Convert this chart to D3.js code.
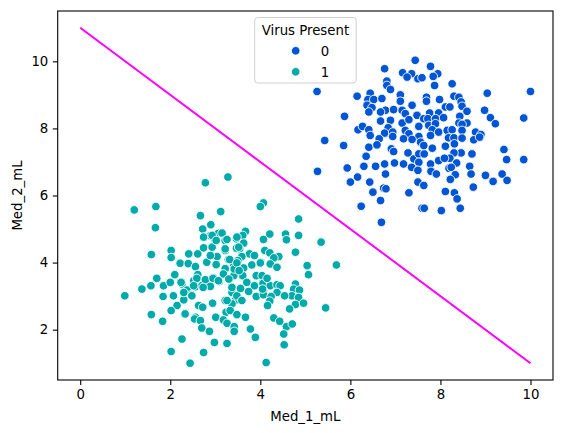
<!DOCTYPE html>
<html>
<head>
<meta charset="utf-8">
<script src="https://cdn.jsdelivr.net/npm/d3@7"></script>
<style>
  body { margin: 0; background: #fff; }
  text { font-family: "DejaVu Sans", sans-serif; }
</style>
</head>
<body>
<script>
// points, [Med_1_mL, Med_2_mL]
var virus0Points = [
  [7.44,10.03],[6.76,9.78],[7.16,9.66],[7.36,9.63],[7.26,9.53],[7.5,9.48],[6.81,9.41],[6.81,9.28],[6.89,9.16],[5.26,9.1],
  [6.15,8.96],[6.44,9.05],[6.39,8.86],[6.52,8.86],[6.7,8.89],[7.11,9.0],[7.11,8.81],[7.37,8.69],[6.37,8.69],[6.48,8.62],
  [6.41,8.49],[6.78,8.54],[6.96,8.56],[6.67,8.49],[7.15,8.54],[7.22,8.44],[7.48,8.39],[5.87,8.36],[6.67,8.22],[6.89,8.24],
  [7.15,8.16],[7.3,8.26],[6.84,8.02],[6.17,7.96],[6.27,8.06],[6.41,7.96],[6.44,7.79],[6.76,7.86],[6.94,7.89],[6.94,7.76],
  [7.22,7.94],[7.3,7.84],[7.52,8.06],[7.52,7.76],[6.64,7.69],[5.43,7.64],
  [7.78,9.85],[7.94,9.63],[7.84,9.55],[7.59,9.51],[7.87,9.28],[8.26,9.33],[9.04,9.05],[10.0,9.1],[7.69,8.93],[7.69,8.81],
  [7.98,8.86],[8.3,8.96],[8.41,8.93],[8.46,8.79],[8.48,8.66],[8.11,8.64],[8.21,8.64],[8.59,8.51],[8.98,8.54],[9.11,8.32],
  [9.22,8.14],[9.85,8.31],[7.76,8.46],[7.96,8.46],[7.63,8.29],[7.72,8.29],[7.89,8.29],[8.07,8.32],[8.43,8.36],[7.74,8.09],
  [7.89,8.14],[8.41,8.16],[8.59,8.16],[8.48,8.12],[7.82,7.96],[7.96,7.89],[8.15,7.94],[8.26,7.96],[8.48,7.94],[8.78,7.89],
  [8.9,7.82],[7.78,7.79],[8.18,7.72],[8.3,7.72],[8.74,7.66],
  [5.85,7.49],[6.41,7.44],[6.59,7.51],[6.91,7.39],[6.96,7.31],[7.18,7.69],[7.37,7.67],[7.56,7.59],[7.28,7.27],[7.41,7.09],
  [7.52,7.24],[6.35,7.17],[6.98,6.97],[7.18,6.94],[7.36,6.84],[7.52,6.99],[7.5,6.75],[5.27,6.72],[5.93,6.82],[6.3,6.87],
  [6.56,6.87],[6.76,6.94],[6.78,6.64],[6.16,6.55],[6.0,6.4],[6.43,6.4],[7.5,6.4],[6.74,6.22],[6.79,6.2],[6.5,6.1],
  [7.3,6.08],[6.67,5.85],[6.24,5.68],[6.69,5.2],[7.59,5.62],
  [9.41,7.37],[9.47,7.07],[9.85,7.07],[8.87,7.74],[8.7,7.24],[8.65,6.87],[8.68,6.64],[8.73,6.25],[9.0,6.6],[9.17,6.42],
  [9.37,6.64],[9.48,6.45],[8.46,7.27],[8.31,7.54],[8.11,7.47],[8.3,7.27],[8.21,7.11],[8.36,6.97],[8.19,6.81],[8.24,6.84],
  [8.33,6.62],[8.22,6.48],[7.96,7.04],[8.09,7.11],[7.78,6.94],[7.79,6.72],[7.91,6.64],[7.64,7.24],[7.82,7.41],[7.63,7.49],
  [7.63,6.3],[8.11,6.12],[8.31,6.08],[8.37,5.9],[7.64,5.62],[8.02,5.55],[8.44,5.62],[8.48,7.71]
];

var virus1Points = [
  [0.99,3.01],[1.2,5.57],[1.68,5.67],[1.67,5.04],[2.67,5.4],[3.12,5.52],[2.9,5.13],[2.72,5.0],[2.78,6.38],[3.28,6.55],
  [1.58,4.24],[2.02,4.36],[2.02,4.15],[2.41,4.26],[2.22,3.98],[2.61,4.26],[2.74,4.44],[2.89,4.8],[3.07,4.87],[3.15,4.88],
  [3.0,4.66],[3.22,4.66],[2.93,4.46],[2.81,4.01],[3.04,4.18],[3.22,4.36],[2.4,3.97],[2.56,3.88],[3.02,3.94],[3.22,3.82],
  [3.29,4.09],
  [4.07,5.78],[4.0,5.67],[4.85,5.3],[4.85,4.81],[4.56,4.85],[4.58,4.68],[4.21,4.85],[4.07,4.69],[3.67,4.93],[3.61,4.81],
  [3.47,4.71],[3.63,4.58],[3.54,4.41],[5.35,4.61],[4.78,4.31],[5.04,3.91],[5.69,3.93],[4.1,4.36],[4.21,4.29],[4.41,4.18],
  [4.3,4.14],[3.76,4.26],[3.87,4.21],[3.59,4.18],[4.01,4.01],[4.22,3.96],[4.37,3.86],[3.81,3.93],[3.63,3.84],[3.41,3.91],
  [3.5,4.06],
  [1.37,3.21],[1.57,3.31],[1.7,3.53],[1.85,3.31],[1.84,2.99],[2.1,3.64],[2.0,3.41],[2.07,3.01],[2.15,2.72],[2.02,2.57],
  [2.26,3.36],[2.3,2.89],[2.33,2.47],[2.52,3.46],[2.61,3.64],[2.37,3.18],[2.47,3.04],[2.56,3.28],[2.78,3.46],[2.89,3.31],
  [2.7,3.31],[2.96,3.54],[3.09,3.44],[3.18,3.66],[2.63,2.72],[2.72,2.67],[2.94,2.79],[3.22,2.87],[1.58,2.45],[1.83,2.25],
  [2.56,2.37],[2.54,2.32],[2.67,2.27],[2.7,2.05],[2.87,1.95],[3.01,2.37],[3.24,2.52],[3.18,2.29],[3.26,2.19],[2.26,1.72],
  [2.98,1.62],[3.26,1.59],[2.02,1.35],[2.74,1.32],[2.44,1.0],
  [5.07,3.64],[5.45,2.65],[3.41,3.61],[3.61,3.61],[3.91,3.61],[4.04,3.61],[3.7,3.41],[3.87,3.31],[4.06,3.38],[4.22,3.31],
  [4.37,3.34],[4.44,3.31],[3.74,3.14],[3.91,2.99],[4.07,3.16],[4.07,3.04],[4.37,3.11],[4.24,2.99],[4.21,2.85],[4.16,2.72],
  [3.37,3.11],[3.44,2.87],[3.37,2.77],[3.33,2.57],[3.48,2.45],[3.67,2.37],[3.42,2.09],[3.42,1.95],[3.78,2.02],[3.89,1.77],
  [4.3,2.35],[4.43,2.25],[4.58,2.09],[4.71,2.17],[4.52,1.87],[4.53,1.55],[4.13,1.02],[4.78,3.36],[4.74,3.21],[4.87,3.18],
  [4.7,3.01],[4.85,2.96],[4.78,2.75],[4.65,2.62],[4.96,2.79],
  [2.74,4.76],[2.93,4.81],[3.02,4.66],[3.26,4.69],[3.48,4.76],[3.22,4.41],[3.47,4.43],[2.89,4.21],[3.32,4.09],[3.42,3.81],
  [3.48,3.99],[2.24,3.41],[2.59,3.53],[2.52,3.31],[2.78,3.49],[2.95,3.53],[3.07,3.46],[2.89,3.29],[2.73,3.26],[3.3,3.51],
  [3.37,3.26],[2.3,3.11],[2.48,3.01],[3.48,3.01],[3.26,2.87],
  [3.52,4.46],[4.0,3.99],[3.53,3.76],[4.15,3.53],[4.05,3.21],[3.56,3.23],[4.54,3.01],[3.59,2.87]
];

var lineX = [0, 10];
var lineY = [11, 1];

var xTicks = [0, 2, 4, 6, 8, 10];
var yTicks = [2, 4, 6, 8, 10];

var hueLabels = ["0", "1"];
var hueColors = ["#0055d4", "#00aaaa"];

var svgWidth = 563;
var svgHeight = 433;

var margin = { top: 11, right: 10, bottom: 53, left: 57.7 };
var width = svgWidth - margin.left - margin.right;
var height = svgHeight - margin.top - margin.bottom;

var svg = d3.select("body")
    .append("svg")
    .attr("width", svgWidth)
    .attr("height", svgHeight);

var chartGroup = svg.append("g")
    .attr("transform", `translate(${margin.left}, ${margin.top})`);

var x = d3.scaleLinear().domain([-0.5, 10.5]).range([0, width]);
var y = d3.scaleLinear().domain([0.5, 11.5]).range([height, 0]);

// axes
var bottomAxis = d3.axisBottom(x).tickValues(xTicks).tickSize(4.9).tickPadding(4.5);
var leftAxis = d3.axisLeft(y).tickValues(yTicks).tickSize(4.9).tickPadding(4.5);

var gx = chartGroup.append("g")
    .attr("transform", `translate(0, ${height})`)
    .call(bottomAxis);
var gy = chartGroup.append("g").call(leftAxis);

[gx, gy].forEach(function(g) {
    g.select(".domain").remove();
    g.selectAll(".tick line").attr("stroke", "#000").attr("stroke-width", 1.1);
    g.selectAll(".tick text")
        .attr("fill", "#000")
        .style("font-family", "DejaVu Sans")
        .style("font-size", "13.3px");
});

// frame
chartGroup.append("rect")
    .attr("width", width)
    .attr("height", height)
    .attr("fill", "none")
    .attr("stroke", "#000")
    .attr("stroke-width", 1.1);

// points
var groups = [virus0Points, virus1Points];
groups.forEach(function(pts, i) {
    chartGroup.append("g").selectAll("circle")
        .data(pts)
        .enter()
        .append("circle")
        .attr("cx", d => x(d[0]))
        .attr("cy", d => y(d[1]))
        .attr("r", 4.3)
        .attr("fill", hueColors[i])
        .attr("stroke", "#fff")
        .attr("stroke-width", 0.9);
});

// decision line
var line = d3.line().x(d => x(d[0])).y(d => y(d[1]));
chartGroup.append("path")
    .datum(lineX.map((v, i) => [v, lineY[i]]))
    .attr("d", line)
    .attr("fill", "none")
    .attr("stroke", "#ff00ff")
    .attr("stroke-width", 2);

// axis labels
svg.append("text")
    .attr("x", margin.left + width / 2)
    .attr("y", 421)
    .attr("text-anchor", "middle")
    .style("font-size", "13.3px")
    .text("Med_1_mL");

svg.append("text")
    .attr("transform", `translate(22, ${margin.top + height / 2}) rotate(-90)`)
    .attr("text-anchor", "middle")
    .style("font-size", "13.3px")
    .text("Med_2_mL");

// legend
var legend = svg.append("g").attr("transform", "translate(254.7, 17.5)");
legend.append("rect")
    .attr("width", 101.5)
    .attr("height", 65.5)
    .attr("rx", 3)
    .attr("fill", "#fff")
    .attr("fill-opacity", 0.8)
    .attr("stroke", "#d0d0d0");
legend.append("text")
    .attr("x", 50.7)
    .attr("y", 17)
    .attr("text-anchor", "middle")
    .style("font-size", "13.3px")
    .text("Virus Present");
hueLabels.forEach(function(lab, i) {
    legend.append("circle")
        .attr("cx", 41)
        .attr("cy", 33.3 + i * 21)
        .attr("r", 4.3)
        .attr("fill", hueColors[i])
        .attr("stroke", "#fff")
        .attr("stroke-width", 0.9);
    legend.append("text")
        .attr("x", 66)
        .attr("y", 38 + i * 21)
        .style("font-size", "13.3px")
        .text(lab);
});
</script>
</body>
</html>
